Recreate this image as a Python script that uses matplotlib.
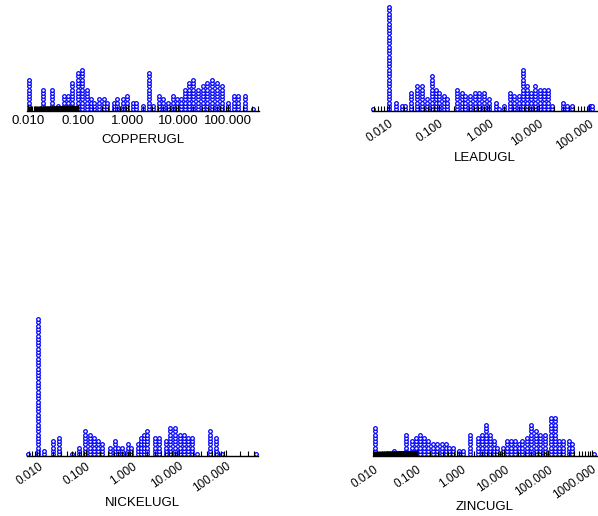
import matplotlib.pyplot as plt
import numpy as np
from matplotlib.ticker import FixedLocator, NullFormatter

plt.rcParams["font.family"] = ["Liberation Sans", "DejaVu Sans"]

W, H = 598, 516
PITCH = 3.3  # pixels per dot in a stack

# stack positions (ug/L) and number of dots per stack
copper_values = [0.0106, 0.0203, 0.0307, 0.0404, 0.0525, 0.0641, 0.0747, 0.0985,
                 0.118, 0.149, 0.182, 0.212, 0.259, 0.336, 0.386, 0.533, 0.612,
                 0.807, 0.940, 1.24, 1.45, 1.96, 2.67, 3.21, 4.23, 5.09, 6.21,
                 8.07, 9.70, 11.3, 14.0, 16.9, 20.3, 25.1, 32.1, 38.6, 48.6, 61.2,
                 74.7, 101.6, 132, 158, 219, 321]
copper_counts = [10, 7, 7, 2, 5, 5, 9, 12, 13, 7, 4, 3, 4, 4, 3, 3, 4, 4, 5, 3, 3,
                 2, 12, 2, 5, 4, 3, 5, 4, 4, 7, 9, 10, 7, 8, 9, 10, 9, 8, 3, 5, 5,
                 5, 1]

lead_values = [0.00486, 0.0100, 0.0138, 0.0179, 0.0209, 0.0272, 0.0357, 0.0450,
               0.0584, 0.0736, 0.0885, 0.102, 0.126, 0.147, 0.233, 0.284, 0.337,
               0.417, 0.517, 0.631, 0.795, 1.00, 1.38, 1.61, 2.00, 2.63, 3.21,
               3.92, 4.86, 5.66, 6.80, 8.45, 10.5, 12.6, 15.4, 18.2, 29.7, 35.7,
               46.4, 105, 117]
lead_counts = [1, 32, 3, 2, 2, 6, 8, 8, 4, 11, 7, 6, 5, 4, 7, 6, 5, 5, 6, 6, 6, 4,
               3, 1, 2, 6, 5, 5, 13, 8, 6, 8, 7, 7, 7, 2, 3, 2, 2, 2, 2]

nickel_values = [0.00581, 0.0095, 0.0126, 0.0200, 0.0268, 0.0494, 0.0708, 0.0984,
                 0.122, 0.151, 0.184, 0.217, 0.327, 0.418, 0.494, 0.601, 0.808,
                 0.922, 1.33, 1.56, 1.78, 2.00, 3.06, 3.73, 5.18, 6.41, 8.08,
                 10.3, 13.0, 15.8, 19.3, 24.7, 45.5, 62.2, 84.8, 440]
nickel_counts = [1, 42, 2, 5, 6, 1, 3, 8, 7, 6, 5, 4, 3, 5, 3, 3, 4, 3, 4, 6, 7,
                 8, 6, 6, 5, 9, 9, 7, 7, 6, 6, 1, 8, 6, 1, 1]

zinc_values = [0.0107, 0.0303, 0.0551, 0.0755, 0.0948, 0.117, 0.147, 0.182, 0.236,
               0.283, 0.367, 0.462, 0.551, 0.669, 0.916, 1.11, 1.63, 2.50, 3.08,
               3.81, 4.70, 5.91, 6.92, 9.16, 11.3, 14.0, 17.6, 22.1, 25.3, 33.6,
               41.5, 52.3, 65.6, 86.9, 115, 145, 182, 225, 298, 355, 1151]
zinc_counts = [9, 2, 7, 5, 6, 7, 6, 5, 4, 4, 4, 4, 3, 3, 2, 2, 7, 6, 7, 10, 7, 5,
               3, 3, 5, 5, 5, 4, 5, 6, 10, 8, 7, 7, 12, 12, 5, 5, 5, 4, 1]


def minor_ticks(dense_first):
    ticks = [s * 10.0 ** d for d in range(-4, 4) for s in range(2, 10)]
    if dense_first:
        ticks += list(np.arange(0.0105, 0.1, 0.0006))
    return ticks


def dot_panel(fig, values, counts, name, box, xlim, ticks, tick_labels,
              rotate=False, dense_first=False, label_top=0, pad=3):
    x0, x1, base, height = box
    ax = fig.add_axes([x0 / W, 1 - base / H, (x1 - x0) / W, height / H])
    ax.set_axisbelow(False)

    xs, ys = [], []
    for v, c in zip(values, counts):
        xs.extend([v] * c)
        ys.extend(np.arange(c) + 0.5)
    ax.plot(xs, ys, "o", ms=2.6, mfc="white", mec="blue", mew=0.9,
            clip_on=False, zorder=2)

    ax.set_xscale("log")
    ax.set_xlim(10 ** xlim[0], 10 ** xlim[1])
    ax.set_ylim(0, height / PITCH)

    for side in ["top", "left", "right"]:
        ax.spines[side].set_visible(False)
    ax.spines["bottom"].set_linewidth(1.0)
    ax.set_yticks([])

    ax.set_xticks(ticks)
    ax.set_xticklabels(tick_labels)
    ax.xaxis.set_minor_locator(FixedLocator(minor_ticks(dense_first)))
    ax.xaxis.set_minor_formatter(NullFormatter())
    ax.tick_params(axis="x", which="major", direction="in", length=4,
                   width=0.8, pad=pad, labelsize=8.5 if rotate else 9.5)
    ax.tick_params(axis="x", which="minor", direction="in", length=3.5,
                   width=0.8)

    if rotate:
        for tl in ax.get_xticklabels():
            tl.set_rotation(35)
            tl.set_ha("right")
            tl.set_va("top")
            tl.set_rotation_mode("anchor")

    ax.set_xlabel(name, fontsize=9.5, va="top")
    ax.xaxis.set_label_coords(0.5, -(label_top - base) / height)
    return ax


fig = plt.figure(figsize=(W / 100, H / 100), dpi=100)

labels5 = ["0.010", "0.100", "1.000", "10.000", "100.000"]
ticks5 = [0.01, 0.1, 1, 10, 100]

dot_panel(fig, copper_values, copper_counts, "COPPERUGL",
          (27, 259, 111, 108), (-2.02, 2.62), ticks5, labels5,
          dense_first=True, label_top=134)
dot_panel(fig, lead_values, lead_counts, "LEADUGL",
          (372, 597, 111, 108), (-2.34, 2.16), ticks5, labels5,
          rotate=True, label_top=152, pad=5)
dot_panel(fig, nickel_values, nickel_counts, "NICKELUGL",
          (27, 258, 456, 160), (-2.26, 2.69), ticks5, labels5,
          rotate=True, label_top=497, pad=3)
dot_panel(fig, zinc_values, zinc_counts, "ZINCUGL",
          (373, 597, 456, 160), (-2.01, 3.12), ticks5 + [1000],
          labels5 + ["1000.000"], rotate=True, dense_first=True, label_top=501,
          pad=5.5)

fig.savefig("out.png", dpi=100)
